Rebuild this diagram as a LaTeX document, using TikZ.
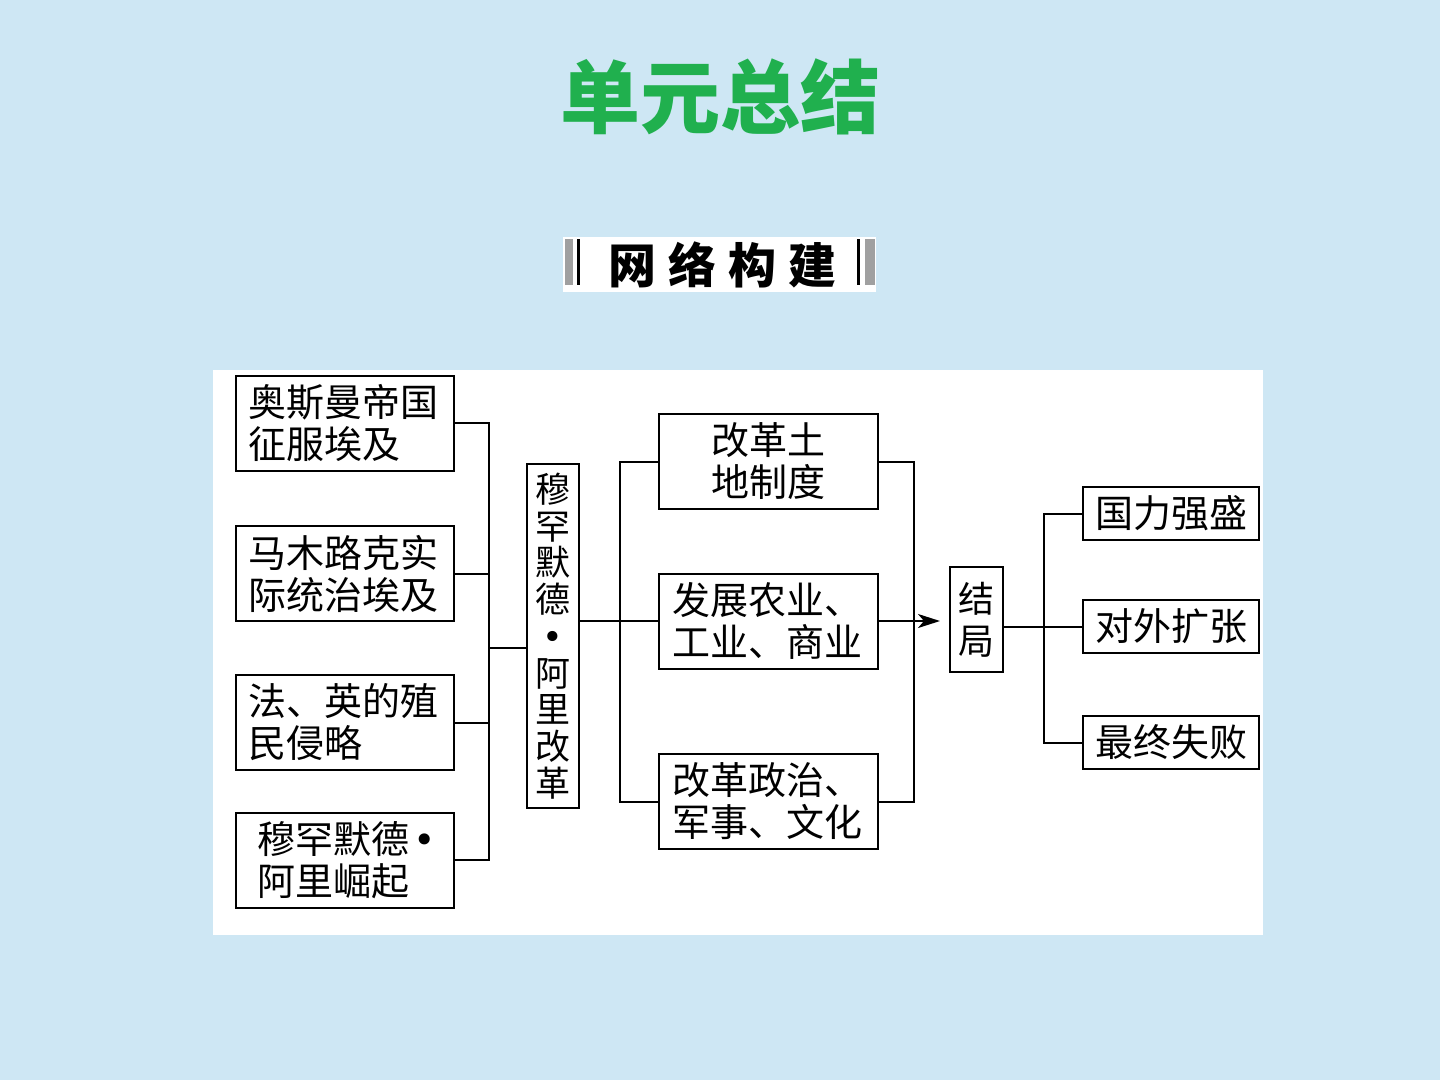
\documentclass[tikz,border=0pt]{standalone}
\usepackage{fontspec}
\setmainfont{Noto Sans CJK SC}
\newfontfamily\dotfont{DejaVu Sans}
\usetikzlibrary{arrows.meta}
\definecolor{bgblue}{RGB}{206,231,244}
\definecolor{titlegreen}{RGB}{32,176,78}
\definecolor{bargray}{RGB}{160,160,160}
\newcommand{\bdot}{{\dotfont •}}
\tikzset{
  box/.style={draw, line width=2pt, fill=white, inner sep=0pt, font=\fontsize{38}{42}\selectfont},
  lbox/.style={box, minimum width=218pt, minimum height=95pt, text width=194pt, inner xsep=12pt, align=left},
  mbox/.style={box, minimum width=219pt, minimum height=95pt, text width=193pt, inner xsep=13pt, align=left},
  rbox/.style={box, minimum width=176pt, minimum height=53pt, align=center},
  conn/.style={line width=2pt},
}
\begin{document}
\begin{tikzpicture}[x=1pt,y=-1pt]
\useasboundingbox (0,0) rectangle (1440,1080);
\fill[bgblue] (0,0) rectangle (1440,1080);
% title
\node[font=\fontsize{80}{84}\selectfont\bfseries, text=titlegreen] (title) at (720,97) {单元总结};
% header
\node[fill=white, minimum width=313pt, minimum height=55pt, inner sep=0pt] (hdr) at (719.5,264.5) {};
\node[font=\fontsize{48}{50}\selectfont\bfseries] (hdrtext) at (722,265) {网\hspace{12pt}络\hspace{12pt}构\hspace{12pt}建};
\fill[bargray] (565,239) rectangle (573,285);
\fill[black] (577,239) rectangle (580,285);
\fill[black] (857,239) rectangle (860,285);
\fill[bargray] (865,239) rectangle (875,285);
% panel
\fill[white] (213,370) rectangle (1263,935);
% left boxes
\node[lbox] (L1) at (345,423) {奥斯曼帝国\\征服埃及};
\node[lbox] (L2) at (345,573.5) {马木路克实\\际统治埃及};
\node[lbox] (L3) at (345,722.5) {法、英的殖\\民侵略};
\node[lbox] (L4) at (345,860) {\hspace*{9pt}穆罕默德\hspace{4pt}\bdot\\\hspace*{9pt}阿里崛起};
% center
\node[box, minimum width=52pt, minimum height=344pt, align=center, font=\fontsize{35}{36.7}\selectfont] (C) at (553,636) {穆\\罕\\默\\德\\\bdot\\阿\\里\\改\\革};
% middle boxes
\node[mbox, align=center] (M1) at (768.5,461.5) {改革土\\地制度};
\node[mbox] (M2) at (768.5,621) {发展农业、\\工业、商业};
\node[mbox] (M3) at (768.5,801.5) {改革政治、\\军事、文化};
% result
\node[box, minimum width=53pt, minimum height=105pt, align=center, font=\fontsize{36}{42}\selectfont] (J) at (976.5,619.5) {结\\局};
% right boxes
\node[rbox] (R1) at (1171,513.5) {国力强盛};
\node[rbox] (R2) at (1171,626.5) {对外扩张};
\node[rbox] (R3) at (1171,742.5) {最终失败};
% connectors
\coordinate (bl) at (489,648);
\draw[conn] (L1.east) -| (bl) |- (L4.east);
\draw[conn] (L2.east) -- (L2.east -| bl);
\draw[conn] (L3.east) -- (L3.east -| bl);
\draw[conn] (bl) -- (bl -| C.west);
\coordinate (bc) at (620,621);
\draw[conn] (M1.west) -| (bc) |- (M3.west);
\draw[conn] (M2.west -| C.east) -- (M2.west);
\coordinate (bm) at (914,621);
\draw[conn] (M1.east) -| (bm) |- (M3.east);
\coordinate (tip) at (940,621);
\draw[conn, -{Stealth[length=22pt, width=14pt, inset=6pt]}] (M2.east) -- (tip);
\coordinate (bj) at (1044,626.5);
\draw[conn] (R1.west) -| (bj) |- (R3.west);
\draw[conn] (bj -| J.east) -- (R2.west);
\end{tikzpicture}
\end{document}
